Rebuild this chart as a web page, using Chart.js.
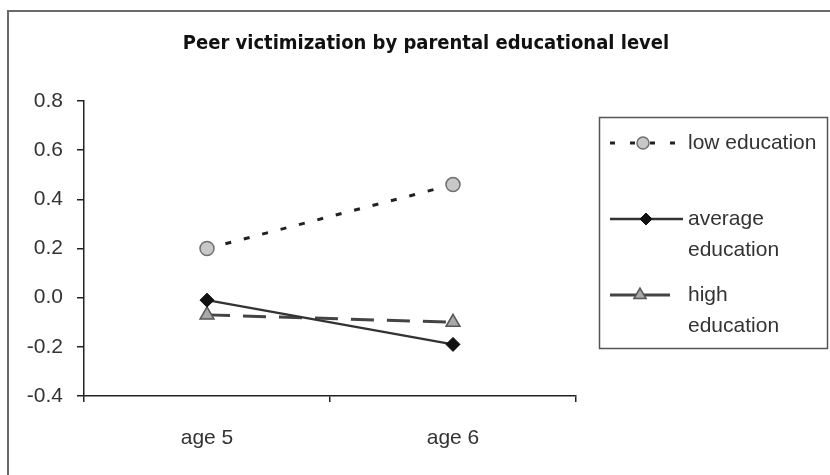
<!DOCTYPE html>
<html lang="en">
<head>
<meta charset="UTF-8">
<title>Peer victimization</title>
<script src="https://cdn.jsdelivr.net/npm/chart.js"></script>
<style>
  body { margin: 0; background: #ffffff; }
  #wrap { width: 830px; height: 475px; }
</style>
</head>
<body>
<div id="wrap"><canvas id="chart" width="830" height="475"></canvas></div>
<script>
// DATA
const categories = ['age 5', 'age 6'];
const lowEducation = [0.2, 0.46];
const averageEducation = [-0.01, -0.19];
const highEducation = [-0.07, -0.1];
const yTickValues = [-0.4, -0.2, 0.0, 0.2, 0.4, 0.6, 0.8];
const seriesLabels = ['low education', 'average education', 'high education'];
const legendLines = [['low education'], ['average', 'education'], ['high', 'education']];
const titleText = 'Peer victimization by parental educational level';

const textFont = "'Liberation Sans', Arial, sans-serif";
const titleFont = "'Liberation Sans Narrow', 'DejaVu Sans Condensed', 'Liberation Sans', sans-serif";

// frame around the whole figure + white background
const framePlugin = {
  id: 'frame',
  beforeDraw(chart) {
    const ctx = chart.ctx;
    ctx.save();
    ctx.fillStyle = '#ffffff';
    ctx.fillRect(0, 0, chart.width, chart.height);
    ctx.strokeStyle = '#6a6a6a';
    ctx.lineWidth = 2;
    ctx.strokeRect(8, 11, chart.width + 20, chart.height + 20);
    ctx.restore();
  }
};

// boxed legend with wrapped labels
const legendRows = [
  { y: 143, x0: 610, x1: 676, px: 643 },
  { y: 219, x0: 610, x1: 683, px: 646 },
  { y: 295, x0: 610, x1: 670, px: 640 }
];
const boxLegend = {
  id: 'boxLegend',
  afterDraw(chart) {
    const ctx = chart.ctx;
    ctx.save();
    ctx.strokeStyle = '#555';
    ctx.lineWidth = 1.5;
    ctx.strokeRect(599.5, 117.5, 228, 231);
    chart.data.datasets.forEach((ds, i) => {
      const r = legendRows[i];
      ctx.save();
      ctx.strokeStyle = ds.borderColor;
      ctx.lineWidth = ds.borderWidth;
      ctx.setLineDash(i === 0 ? [5, 15] : []);
      ctx.beginPath();
      ctx.moveTo(r.x0, r.y);
      ctx.lineTo(r.x1, r.y);
      ctx.stroke();
      ctx.restore();
      ctx.save();
      ctx.fillStyle = ds.pointBackgroundColor;
      ctx.strokeStyle = ds.pointBorderColor;
      ctx.lineWidth = ds.pointBorderWidth;
      Chart.helpers.drawPoint(ctx, {
        pointStyle: ds.pointStyle,
        radius: ds.pointRadius - 1,
        borderWidth: ds.pointBorderWidth,
        rotation: 0
      }, r.px, r.y);
      ctx.restore();
      ctx.fillStyle = '#333';
      ctx.font = '21px ' + textFont;
      ctx.textBaseline = 'middle';
      ctx.textAlign = 'left';
      legendLines[i].forEach((line, k) => {
        ctx.fillText(line, 688, r.y + k * 31);
      });
    });
    ctx.restore();
  }
};

Chart.defaults.font.family = textFont;
Chart.defaults.color = '#333';

new Chart(document.getElementById('chart'), {
  type: 'line',
  data: {
    labels: categories,
    datasets: [
      {
        label: seriesLabels[0],
        data: lowEducation,
        borderColor: '#222',
        borderWidth: 3,
        borderDash: [6, 13],
        pointStyle: 'circle',
        pointRadius: 7,
        pointBackgroundColor: '#c8c8c8',
        pointBorderColor: '#707070',
        pointBorderWidth: 1.5,
        yAxisID: 'y'
      },
      {
        label: seriesLabels[1],
        data: averageEducation,
        borderColor: '#333',
        borderWidth: 2.5,
        pointStyle: 'rectRot',
        pointRadius: 7,
        pointBackgroundColor: '#111',
        pointBorderColor: '#111',
        pointBorderWidth: 1,
        yAxisID: 'y'
      },
      {
        label: seriesLabels[2],
        data: highEducation,
        borderColor: '#444',
        borderWidth: 3,
        borderDash: [23, 13],
        pointStyle: 'triangle',
        pointRadius: 8,
        pointBackgroundColor: '#a8a8a8',
        pointBorderColor: '#555',
        pointBorderWidth: 1.5,
        yAxisID: 'y'
      }
    ]
  },
  options: {
    responsive: false,
    animation: false,
    layout: { padding: { left: 22, right: 0, top: 0, bottom: 0 } },
    scales: {
      x: {
        type: 'category',
        offset: true,
        grid: { offset: true, drawOnChartArea: false, tickLength: 6, color: '#222', lineWidth: 1.5 },
        border: { color: '#222', width: 1.5 },
        ticks: { font: { size: 21 }, color: '#333', padding: 24, maxRotation: 0 },
        afterFit(scale) { scale.height = 79; }
      },
      y: {
        type: 'linear',
        position: 'left',
        min: -0.4,
        max: 0.8,
        afterBuildTicks(scale) { scale.ticks = yTickValues.map(v => ({ value: v })); },
        grid: { drawOnChartArea: false, tickLength: 7, color: '#222', lineWidth: 1.5 },
        border: { color: '#222', width: 1.5 },
        ticks: {
          font: { size: 21 },
          color: '#333',
          padding: 14,
          callback: v => (Math.abs(v) < 1e-9 ? 0 : v).toFixed(1)
        },
        afterFit(scale) { scale.width = 62; }
      },
      pad: {
        type: 'linear',
        position: 'right',
        grid: { display: false },
        border: { display: false },
        ticks: { display: false },
        afterFit(scale) { scale.width = 254; }
      }
    },
    plugins: {
      legend: { display: false },
      tooltip: { enabled: false },
      title: {
        display: true,
        text: titleText,
        color: '#111',
        font: { family: titleFont, size: 20, weight: 'bold' },
        padding: { top: 32, bottom: 45 }
      }
    }
  },
  plugins: [framePlugin, boxLegend]
});
</script>
</body>
</html>
